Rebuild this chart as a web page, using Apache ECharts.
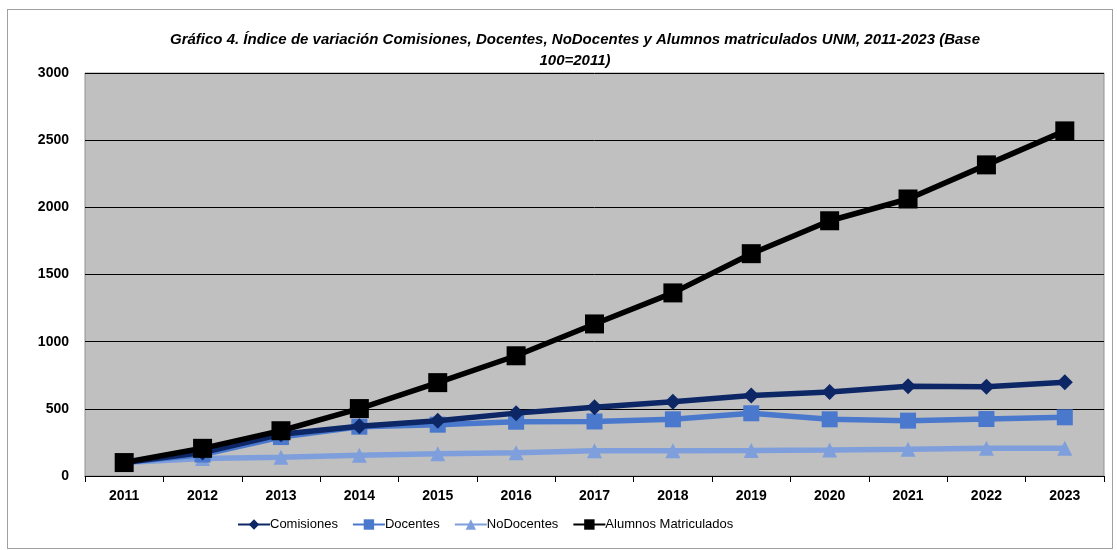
<!DOCTYPE html>
<html><head><meta charset="utf-8">
<script src="https://cdn.jsdelivr.net/npm/echarts@6/dist/echarts.min.js"></script>
<style>html,body{margin:0;padding:0;background:#fff}#c{width:1117px;height:550px}#f{position:absolute;left:7px;top:9px;width:1104px;height:538px;border:1px solid #a0a0a0;pointer-events:none}</style>
</head><body><div id="c"></div><div id="f"></div>
<script>
const years = ['2011','2012','2013','2014','2015','2016','2017','2018','2019','2020','2021','2022','2023'];
const comisiones = [100,175,310,370,412,468,512,553,600,625,668,665,698];
const docentes = [100,160,290,367,382,404,406,422,467,422,412,424,437];
const noDocentes = [100,130,140,155,165,174,188,188,190,194,199,206,206];
const alumnos = [100,206,337,502,695,895,1132,1363,1655,1900,2062,2316,2569];
const yTicks = [0,500,1000,1500,2000,2500,3000];

const font = '"Liberation Sans",Arial,sans-serif';
const chart = echarts.init(document.getElementById('c'));
function s(name, data, color, symbol, size, z){
  return {name, type:'line', data, color, symbol, symbolSize:size, z,
    lineStyle:{width:5.5,color}, itemStyle:{color}, emphasis:{disabled:true}};
}
chart.setOption({
  animation:false,
  title:{text:'Gráfico 4. Índice de variación Comisiones, Docentes, NoDocentes y Alumnos matriculados UNM, 2011-2023 (Base\n100=2011)',
    left:570, top:24, textAlign:'center',
    textStyle:{fontFamily:font,fontStyle:'italic',fontWeight:'bold',fontSize:15,color:'#000',lineHeight:21}},
  legend:{bottom:14, left:232, itemWidth:32, itemHeight:13, itemGap:14,
    textStyle:{fontFamily:font,fontSize:13,color:'#000',padding:[0,0,0,-5]},
    data:['Comisiones','Docentes','NoDocentes','Alumnos Matriculados']},
  grid:{left:85,right:13,top:73,bottom:74,show:true,backgroundColor:'#c0c0c0',borderColor:'#909090',borderWidth:1},
  xAxis:{type:'category',data:years,boundaryGap:true,
    axisLine:{lineStyle:{color:'#000',width:1}},
    axisTick:{show:true,length:6,lineStyle:{color:'#000'}},
    axisLabel:{fontFamily:font,fontWeight:'bold',fontSize:14,color:'#000',margin:13}},
  yAxis:{type:'value',min:0,max:3000,interval:500,
    axisLine:{show:false},axisTick:{show:false},
    splitLine:{lineStyle:{color:'#000',width:1}},
    axisLabel:{fontFamily:font,fontWeight:'bold',fontSize:14,color:'#000',margin:16,
      formatter:v=>yTicks.includes(v)?String(v):''}},
  series:[
    s('NoDocentes',noDocentes,'#7f9fdc','triangle',15,2),
    s('Docentes',docentes,'#4a78cc','rect',16,3),
    s('Comisiones',comisiones,'#0c2666','diamond',16,4),
    s('Alumnos Matriculados',alumnos,'#000000','rect',19,5)
  ]
});
</script></body></html>
